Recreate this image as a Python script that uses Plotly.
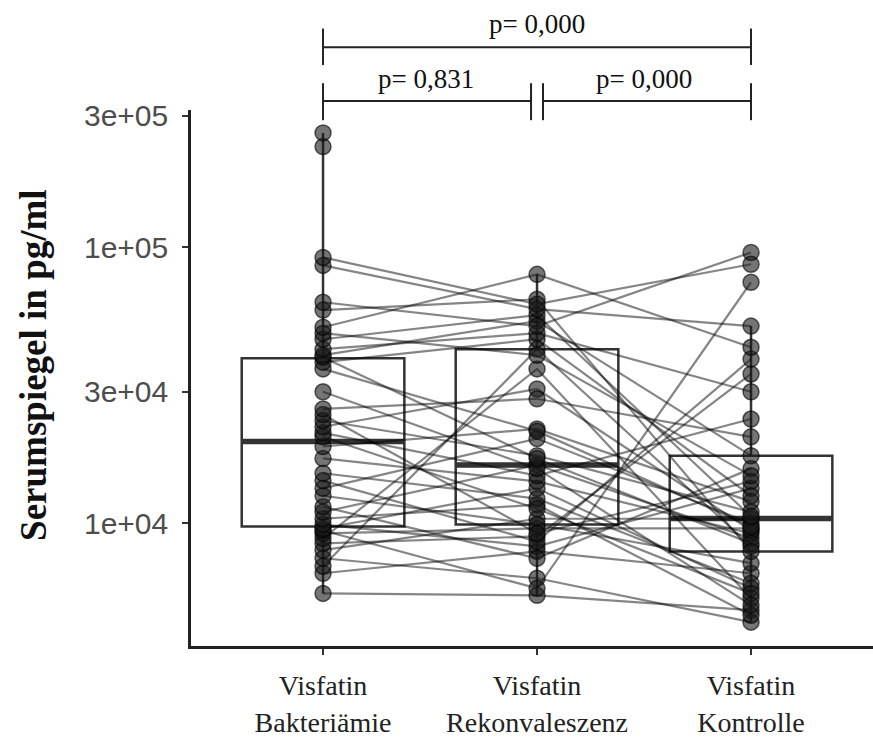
import plotly.graph_objects as go

# Category labels and their positions on the x axis
groups = ["Visfatin<br>Bakteriämie", "Visfatin<br>Rekonvaleszenz", "Visfatin<br>Kontrolle"]
positions = [1, 2, 3]

# Visfatin serum levels (pg/ml) per subject; None = no measurement
bakteriaemie = [5580, 6600, 7000, 7480, 8000, 8470, 8830, 9200, 9430, 9590,
                9910, 10400, 11000, 11500, 12600, 13400, 14300, 15200, 17200, 19000,
                20600, 21300, 22400, 23600, 24800, 26000, 30000, 36300, 38400, 40000,
                40700, 42800, 46500, 48900, 51400, 59300, 63300, 86100, 92000,
                232000, 260000]
rekonvaleszenz = [5490, 7920, 42800, 6330, 10400, 8980, 36300, 9590, 5820, 13400,
                  8260, 11700, 16300, 7480, 9910, 20300, 8600, 12300, 14200, 22000,
                  11300, 14900, 30700, 17600, 9200, 28300, 15800, 21600, 46500, 17200,
                  54100, 48900, 56900, 40700, 79900, 64900, 51900, 59800, 62300,
                  None, None]
kontrolle = [4850, 6600, 8260, 4390, 10400, 34800, 5360, 9590, 74800, 5820,
             13400, 4650, 8830, 15800, 7180, 10000, 39400, 6070, 9200, 12000,
             5580, 23900, 9430, 11000, 14200, 20600, 5060, 9750, 12600, 8470,
             17600, 30000, 10600, 14900, 43500, 7920, 95900, 51900, 86900,
             None, None]

# Box statistics (pg/ml): Q1, median, Q3 and whisker ends
box_q1 = [9750, 9910, 7920]
box_median = [19800, 16300, 10420]
box_q3 = [39700, 42800, 17580]
box_low = [5580, 5490, 4390]
box_high = [260000, 79900, 51900]

# p-values of the pairwise comparisons
p_texts = ["p= 0,000", "p= 0,831", "p= 0,000"]

series = [bakteriaemie, rekonvaleszenz, kontrolle]

BOX_W = 0.76
serif = "Liberation Serif"

fig = go.Figure()

# Boxplots (drawn first, underneath the paired lines)
for i, pos in enumerate(positions):
    fig.add_trace(go.Box(
        x=[pos], q1=[box_q1[i]], median=[box_median[i]], q3=[box_q3[i]],
        lowerfence=[box_low[i]], upperfence=[box_high[i]],
        width=BOX_W, whiskerwidth=0, boxpoints=False,
        fillcolor="white", line=dict(color="#333333", width=2.5),
        hoverinfo="skip", showlegend=False,
    ))

# Thicker median bars
for i, pos in enumerate(positions):
    fig.add_trace(go.Scatter(
        x=[pos - BOX_W / 2, pos + BOX_W / 2], y=[box_median[i], box_median[i]],
        mode="lines", line=dict(color="#333333", width=5.5),
        hoverinfo="skip", showlegend=False,
    ))

# Lines connecting the measurements of each subject
for k in range(len(bakteriaemie)):
    xs, ys = [], []
    for pos, s in zip(positions, series):
        if s[k] is not None:
            xs.append(pos)
            ys.append(s[k])
    if len(xs) > 1:
        fig.add_trace(go.Scatter(
            x=xs, y=ys, mode="lines",
            line=dict(color="rgba(0,0,0,0.48)", width=2.2),
            hoverinfo="skip", showlegend=False,
        ))

# Individual measurements
for pos, s in zip(positions, series):
    vals = [v for v in s if v is not None]
    fig.add_trace(go.Scatter(
        x=[pos] * len(vals), y=vals, mode="markers",
        marker=dict(size=16, color="rgba(25,25,25,0.6)",
                    line=dict(color="rgba(0,0,0,0.6)", width=1.5)),
        hoverinfo="skip", showlegend=False,
    ))

# Significance brackets above the panel
def bracket(x0, x1, y_line, y_top, y_bot):
    return [
        dict(type="line", xref="x", yref="paper", x0=x0, x1=x1, y0=y_line, y1=y_line),
        dict(type="line", xref="x", yref="paper", x0=x0, x1=x0, y0=y_bot, y1=y_top),
        dict(type="line", xref="x", yref="paper", x0=x1, x1=x1, y0=y_bot, y1=y_top),
    ]

shapes = []
shapes += bracket(1, 3, 1.117, 1.152, 1.084)
shapes += bracket(1, 1.972, 1.017, 1.050, 0.981)
shapes += bracket(2.028, 3, 1.017, 1.050, 0.981)
for sh in shapes:
    sh["line"] = dict(color="#222222", width=2)

p_font = dict(family=serif, size=27, color="#111111")
annotations = [
    dict(x=2, y=1.160, xref="x", yref="paper", text=p_texts[0], showarrow=False,
         xanchor="center", yanchor="middle", font=p_font),
    dict(x=1.48, y=1.058, xref="x", yref="paper", text=p_texts[1], showarrow=False,
         xanchor="center", yanchor="middle", font=p_font),
    dict(x=2.5, y=1.058, xref="x", yref="paper", text=p_texts[2], showarrow=False,
         xanchor="center", yanchor="middle", font=p_font),
    dict(x=-0.232, y=0.524, xref="paper", yref="paper", text="<b>Serumspiegel in pg/ml</b>",
         textangle=-90, showarrow=False, xanchor="center", yanchor="middle",
         font=dict(family=serif, size=37, color="#111111")),
]

fig.update_layout(
    width=873, height=738,
    margin=dict(l=191, r=0, t=110, b=90),
    paper_bgcolor="white", plot_bgcolor="white",
    showlegend=False,
    shapes=shapes, annotations=annotations,
    xaxis=dict(
        range=[0.383, 3.570], tickvals=positions, ticktext=groups,
        showgrid=False, zeroline=False,
        showline=True, linecolor="#222222", linewidth=2.5,
        ticks="outside", ticklen=6, tickwidth=2, tickcolor="#333333",
        ticklabelstandoff=7,
        tickfont=dict(family=serif, size=28, color="#222222"),
    ),
    yaxis=dict(
        type="log", range=[3.556, 5.498],
        tickvals=[1e4, 3e4, 1e5, 3e5],
        ticktext=["1e+04", "3e+04", "1e+05", "3e+05"],
        showgrid=False, zeroline=False,
        showline=True, linecolor="#222222", linewidth=2.5,
        ticks="outside", ticklen=6, tickwidth=2, tickcolor="#333333",
        ticklabelstandoff=8,
        tickfont=dict(family="Liberation Sans", size=30, color="#4D4D4D"),
    ),
)

fig.write_html("out.html")
